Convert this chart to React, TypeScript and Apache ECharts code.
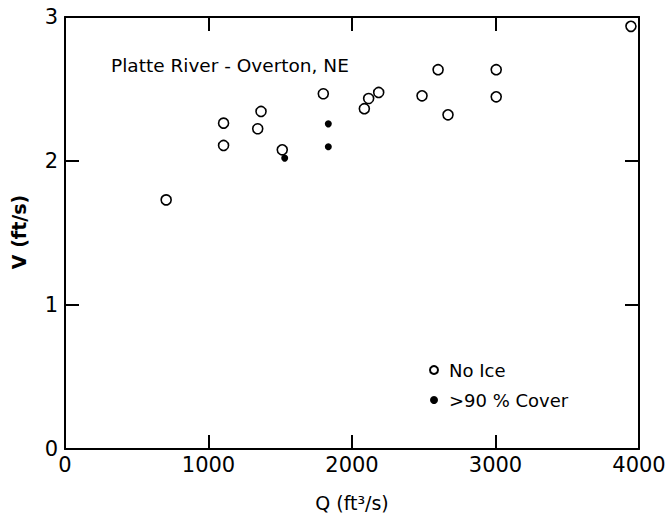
import React, { useEffect, useRef } from "react";
import * as echarts from "echarts";

const noIceQ = [705, 1105, 1105, 1366, 1343, 1514, 1800, 2086, 2116, 2186, 2488, 2600, 2669, 3005, 3005, 3944];
const noIceV = [1.73, 2.263, 2.108, 2.344, 2.224, 2.078, 2.467, 2.363, 2.434, 2.476, 2.453, 2.634, 2.321, 2.634, 2.446, 2.935];
const coverQ = [1531, 1835, 1835];
const coverV = [2.02, 2.258, 2.099];
const xTicks = [0, 1000, 2000, 3000, 4000];
const yTicks = [0, 1, 2, 3];
const seriesNames = ["No Ice", ">90 % Cover"];
const titleText = "Platte River - Overton, NE";
const xTitle = "Q (ft³/s)";
const yTitle = "V (ft/s)";

const FONT = "DejaVu Sans";

const mkLine = () => ({ show: true, onZero: false, lineStyle: { color: "#000", width: 2 } });
const mkTick = () => ({ show: true, inside: true, length: 14, lineStyle: { color: "#000", width: 2 } });

export default function App() {
  const ref = useRef<HTMLDivElement>(null);
  useEffect(() => {
    if (!ref.current) return;
    const chart = echarts.init(ref.current, null, { renderer: "svg" });
    const xMin = xTicks[0], xMax = xTicks[xTicks.length - 1];
    const yMin = yTicks[0], yMax = yTicks[yTicks.length - 1];
    const fmt = (v: number) => String(v);
    chart.setOption({
      animation: false,
      backgroundColor: "#fff",
      grid: { left: 65, right: 30, top: 17, bottom: 73 },
      xAxis: [
        {
          type: "value", min: xMin, max: xMax, interval: 1000, position: "bottom",
          axisLine: mkLine(), axisTick: mkTick(), splitLine: { show: false },
          axisLabel: { show: true, inside: false, formatter: fmt, color: "#000", fontFamily: FONT, fontSize: 21, margin: 5, showMinLabel: true, showMaxLabel: true },
        },
        {
          type: "value", min: xMin, max: xMax, interval: 1000, position: "top",
          axisLine: mkLine(), axisTick: mkTick(), splitLine: { show: false }, axisLabel: { show: false },
        },
      ],
      yAxis: [
        {
          type: "value", min: yMin, max: yMax, interval: 1, position: "left",
          axisLine: mkLine(), axisTick: mkTick(), splitLine: { show: false },
          axisLabel: { show: true, inside: false, formatter: fmt, color: "#000", fontFamily: FONT, fontSize: 21, margin: 7, showMinLabel: true, showMaxLabel: true },
        },
        {
          type: "value", min: yMin, max: yMax, interval: 1, position: "right",
          axisLine: mkLine(), axisTick: mkTick(), splitLine: { show: false }, axisLabel: { show: false },
        },
      ],
      legend: {
        orient: "vertical",
        left: 424,
        top: 356,
        itemWidth: 8,
        itemHeight: 8,
        itemGap: 12,
        textStyle: { color: "#000", fontFamily: FONT, fontSize: 18, padding: [0, 0, 0, 6] },
        data: seriesNames,
      },
      series: [
        {
          name: seriesNames[0],
          type: "scatter",
          symbol: "circle",
          symbolSize: 10,
          itemStyle: { color: "#fff", borderColor: "#000", borderWidth: 1.6, opacity: 1 },
          data: noIceQ.map((q, i) => [q, noIceV[i]]),
          z: 2,
        },
        {
          name: seriesNames[1],
          type: "scatter",
          symbol: "circle",
          symbolSize: 7,
          itemStyle: { color: "#000", opacity: 1 },
          data: coverQ.map((q, i) => [q, coverV[i]]),
          z: 3,
        },
      ],
      graphic: [
        {
          type: "text", left: 111, top: 56,
          style: { text: titleText, fontFamily: FONT, fontSize: 18.5, fill: "#000" },
        },
        {
          type: "text", x: 352, y: 503,
          style: { text: xTitle, fontFamily: FONT, fontSize: 19, fill: "#000", align: "center", verticalAlign: "middle" },
        },
        {
          type: "text", x: 19, y: 232, rotation: Math.PI / 2,
          style: { text: yTitle, fontFamily: FONT, fontSize: 19, fontWeight: "bold", fill: "#000", align: "center", verticalAlign: "middle" },
        },
      ],
    });
    return () => chart.dispose();
  }, []);
  return <div ref={ref} style={{ position: "fixed", left: 0, top: 0, width: 669, height: 522 }} />;
}
